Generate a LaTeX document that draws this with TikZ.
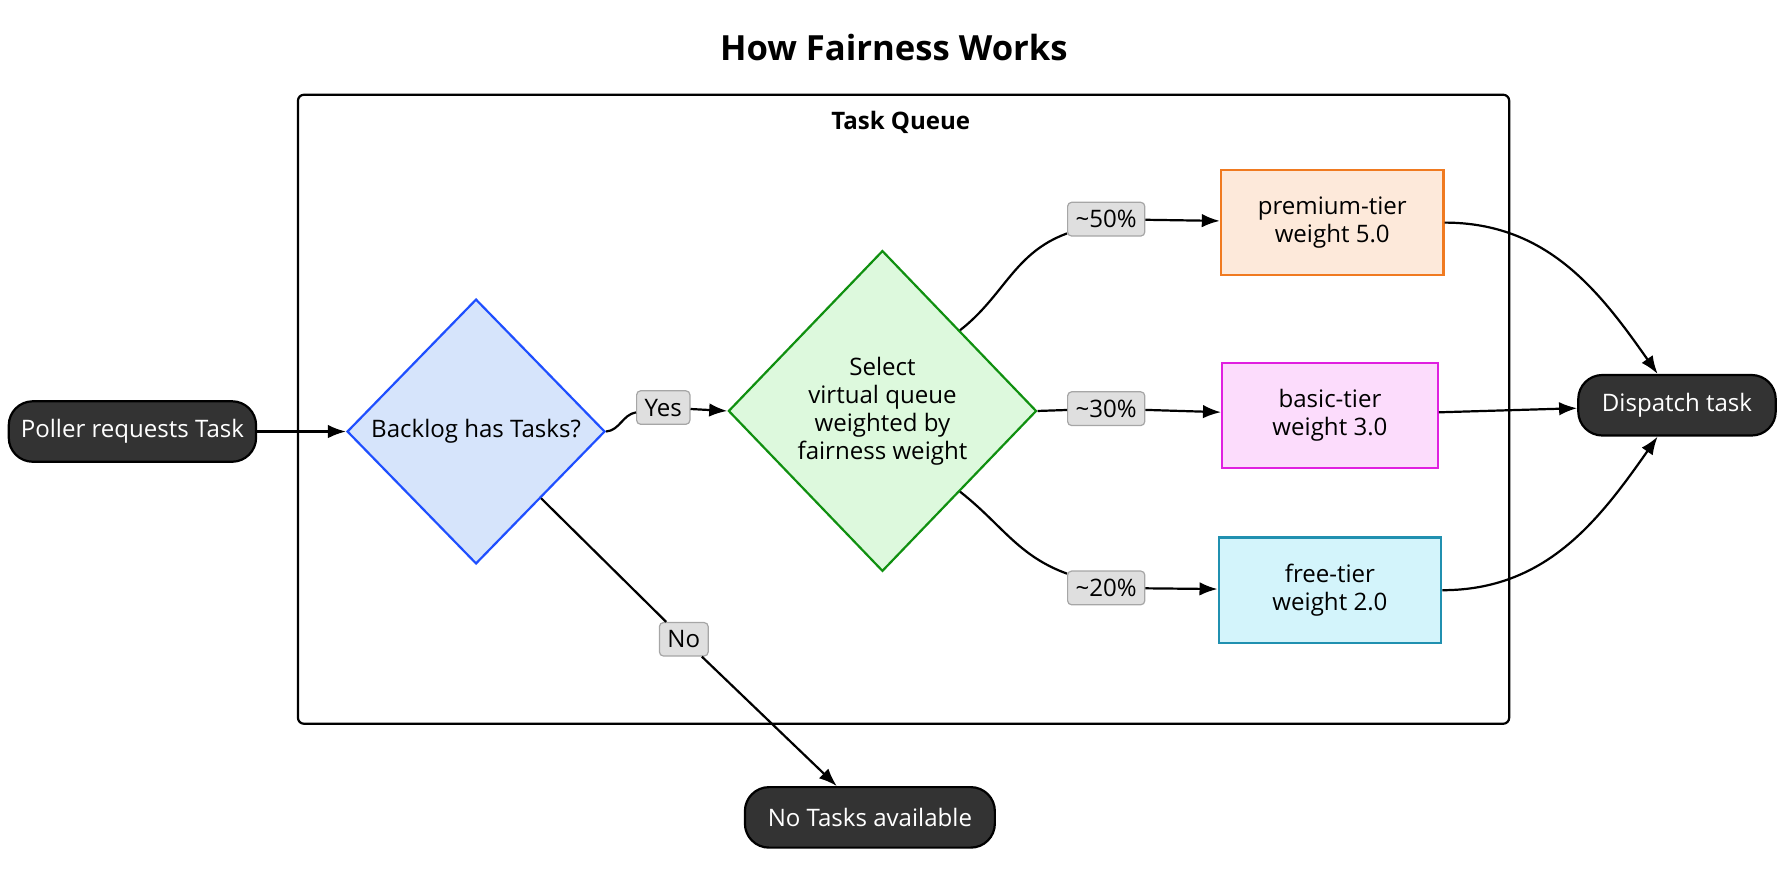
\documentclass[tikz,border=0pt]{standalone}
\usepackage{fontspec}
\setmainfont{Open Sans}
\usetikzlibrary{positioning, arrows.meta, shapes.geometric}
\definecolor{pillgray}{HTML}{333333}
\definecolor{bluefill}{HTML}{D6E4FB}
\definecolor{blueline}{HTML}{1F4FFF}
\definecolor{greenfill}{HTML}{DDF9DD}
\definecolor{greenline}{HTML}{109010}
\definecolor{orangefill}{HTML}{FDE9DA}
\definecolor{orangeline}{HTML}{F07A20}
\definecolor{pinkfill}{HTML}{FCDCFC}
\definecolor{pinkline}{HTML}{E020E0}
\definecolor{cyanfill}{HTML}{D3F4FB}
\definecolor{cyanline}{HTML}{2090B0}

\begin{document}
\begin{tikzpicture}[x=0.02cm, y=-0.02cm, font=\large, line width=1.1pt,
    pill/.style={rounded corners=12pt, fill=pillgray, draw=black, text=white, minimum height=1.06cm, inner xsep=6pt},
    decision/.style={diamond, draw, inner sep=0pt, align=center},
    tier/.style={rectangle, minimum width=3.9cm, minimum height=1.85cm, align=center},
    tag/.style={rectangle, rounded corners=2pt, draw=gray!70, fill=gray!25, inner sep=4pt, line width=0.6pt},
    flow/.style={-{Latex[length=9pt]}}]
    \useasboundingbox (0,0) rectangle (1568,770);

    % Title and frame
    \node[font=\LARGE\bfseries] (title) at (783,42) {How Fairness Works};
    \draw[rounded corners=3pt] (261,83) rectangle (1322,634);
    \node[font=\large\bfseries] (qname) at (789,107) {Task Queue};

    % Nodes
    \node[pill, minimum width=4.32cm] (poller) at (116,378) {Poller requests Task};
    \node[decision, draw=blueline, fill=bluefill, minimum width=4.52cm, minimum height=4.64cm] (backlog) at (417,378) {Backlog has Tasks?};
    \node[decision, draw=greenline, fill=greenfill, minimum width=5.4cm, minimum height=5.62cm] (select) at (773,360) {Select\\virtual queue\\weighted by\\fairness weight};
    \node[tier, draw=orangeline, fill=orangefill] (premium) at (1167,195) {premium-tier\\weight 5.0};
    \node[tier, draw=pinkline, fill=pinkfill, minimum width=3.78cm] (basic) at (1165,364) {basic-tier\\weight 3.0};
    \node[tier, draw=cyanline, fill=cyanfill] (free) at (1165,517) {free-tier\\weight 2.0};
    \node[pill, minimum width=3.46cm] (dispatch) at (1469,355) {Dispatch task};
    \node[pill, minimum width=4.38cm] (none) at (762,716) {No Tasks available};

    % Edge labels
    \node[tag] (yes) at (581,357) {Yes};
    \node[tag] (p50) at (969,192) {\textasciitilde50\%};
    \node[tag] (p30) at (969,358) {\textasciitilde30\%};
    \node[tag] (p20) at (969,515) {\textasciitilde20\%};
    \node[tag] (no) at (599,560) {No};

    % Edges
    \draw[flow] (poller) -- (backlog);
    \draw (backlog.east) to[out=5,in=190] (yes);
    \draw[flow] (yes) -- (select.west);
    \draw (select.north east) to[out=38,in=200] (p50);
    \draw[flow] (p50) -- (premium);
    \draw (select.east) -- (p30);
    \draw[flow] (p30) -- (basic);
    \draw (select.south east) to[out=-38,in=160] (p20);
    \draw[flow] (p20) -- (free);
    \draw (backlog.south east) -- (no);
    \draw[flow] (no) -- ([xshift=-0.58cm]none.north);
    \draw[flow] (premium.east) to[out=0,in=125] ([xshift=-0.34cm]dispatch.north);
    \draw[flow] (basic) -- (dispatch);
    \draw[flow] (free.east) to[out=0,in=-125] ([xshift=-0.34cm]dispatch.south);
\end{tikzpicture}
\end{document}
